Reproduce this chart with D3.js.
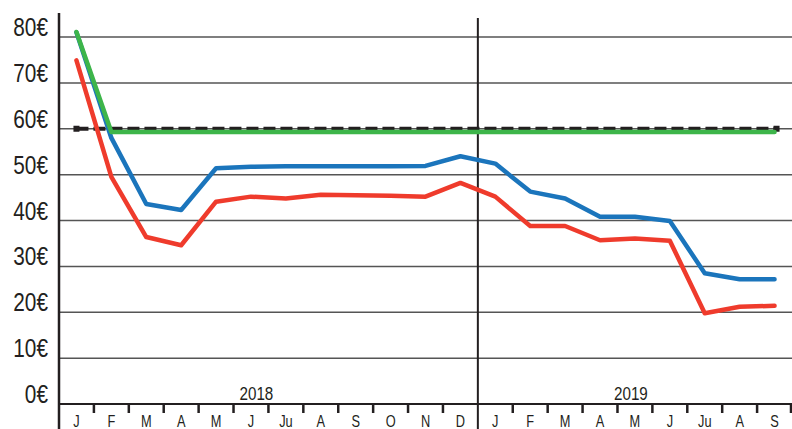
<!DOCTYPE html>
<html>
<head>
<meta charset="utf-8">
<script src="https://cdn.jsdelivr.net/npm/d3@7"></script>
<style>
  html, body { margin: 0; padding: 0; background: #fff; }
  text { font-family: "Liberation Sans", Arial, sans-serif; fill: #231f20; }
</style>
</head>
<body>
<div id="chart"></div>
<script>
// Mois (2018 : J..D, 2019 : J..S)
const mois = ["J","F","M","A","M","J","Ju","A","S","O","N","D",
              "J","F","M","A","M","J","Ju","A","S"];
const annees = [{label: "2018", from: 0, to: 11}, {label: "2019", from: 12, to: 20}];
const yTicks = [0, 10, 20, 30, 40, 50, 60, 70, 80];

// Séries (en €)
const bleu  = [81, 58, 43.6, 42.3, 51.4, 51.7, 51.8, 51.8, 51.8, 51.8, 51.9, 54,
               52.4, 46.3, 44.8, 40.8, 40.8, 39.9, 28.5, 27.2, 27.2];
const rouge = [74.9, 49.5, 36.4, 34.6, 44.1, 45.2, 44.8, 45.6, 45.5, 45.4, 45.2, 48.2,
               45.2, 38.8, 38.8, 35.7, 36.1, 35.6, 19.8, 21.2, 21.4];
const vert  = [81.1, 59.3, 59.3, 59.3, 59.3, 59.3, 59.3, 59.3, 59.3, 59.3, 59.3, 59.3,
               59.3, 59.3, 59.3, 59.3, 59.3, 59.3, 59.3, 59.3, 59.3];
const objectif = mois.map(() => 60);

const width = 792, height = 429;
const etroit = 0.8;  // police condensée

const svg = d3.select("#chart").append("svg")
    .attr("width", width)
    .attr("height", height);

const x = d3.scaleBand()
    .domain(d3.range(mois.length))
    .range([59, 792]);

const y = d3.scaleLinear()
    .domain([0, 80])
    .range([404, 37]);

const cx = i => x(i) + x.bandwidth() / 2;

// grille horizontale
svg.selectAll(".grid").data(yTicks).enter().append("line")
    .attr("x1", 59).attr("x2", width)
    .attr("y1", d => y(d)).attr("y2", d => y(d))
    .style("stroke", d => d === 0 ? "#231f20" : "#555")
    .style("stroke-width", d => d === 0 ? 2 : 1.5);

// libellés de l'axe Y
svg.selectAll(".ylab").data(yTicks).enter().append("text")
    .attr("transform", d => "translate(48," + (y(d) - 1) + ") scale(" + etroit + ",1)")
    .attr("text-anchor", "end")
    .style("font-size", "26px")
    .text(d => d + "€");

// axe Y
svg.append("line")
    .attr("x1", 59).attr("x2", 59)
    .attr("y1", 13).attr("y2", height)
    .style("stroke", "#231f20").style("stroke-width", 2.5);

// séparation 2018 / 2019
svg.append("line")
    .attr("x1", x(12)).attr("x2", x(12))
    .attr("y1", 18).attr("y2", height)
    .style("stroke", "#231f20").style("stroke-width", 2);

// graduations des mois
const bornes = d3.range(1, mois.length + 1).filter(i => i !== 12);
svg.selectAll(".tick").data(bornes).enter().append("line")
    .attr("x1", i => i < mois.length ? x(i) : width - 1)
    .attr("x2", i => i < mois.length ? x(i) : width - 1)
    .attr("y1", 404).attr("y2", 413)
    .style("stroke", "#231f20").style("stroke-width", 2.5);

svg.selectAll(".mois").data(mois).enter().append("text")
    .attr("transform", (d, i) => "translate(" + cx(i) + ",427) scale(" + etroit + ",1)")
    .attr("text-anchor", "middle")
    .style("font-size", "16px")
    .text(d => d);

svg.selectAll(".annee").data(annees).enter().append("text")
    .attr("transform", d => "translate(" + ((x(d.from) + x(d.to) + x.bandwidth()) / 2 + (d.label === "2018" ? -12 : -4)) + ",400) scale(" + etroit + ",1)")
    .attr("text-anchor", "middle")
    .style("font-size", "19px")
    .text(d => d.label);

const ligne = d3.line()
    .x((d, i) => cx(i))
    .y(d => y(d));

// objectif pointillé
svg.append("path")
    .datum(objectif)
    .attr("d", ligne)
    .style("fill", "none")
    .style("stroke", "#231f20")
    .style("stroke-width", 4)
    .style("stroke-dasharray", "12,5");
[0, mois.length - 1].forEach(i => {
    svg.append("rect")
        .attr("x", cx(i) - 3 + (i === 0 ? 0 : 2))
        .attr("y", y(60) - 3)
        .attr("width", 6).attr("height", 6)
        .style("fill", "#231f20");
});

const series = [
    {data: bleu,  color: "#1b75bc"},
    {data: rouge, color: "#ef3b2c"},
    {data: vert,  color: "#3db54a"}
];

series.forEach(s => {
    svg.append("path")
        .datum(s.data)
        .attr("d", ligne)
        .style("fill", "none")
        .style("stroke", s.color)
        .style("stroke-width", 4.5)
        .style("stroke-linejoin", "round")
        .style("stroke-linecap", "round");
});
</script>
</body>
</html>
